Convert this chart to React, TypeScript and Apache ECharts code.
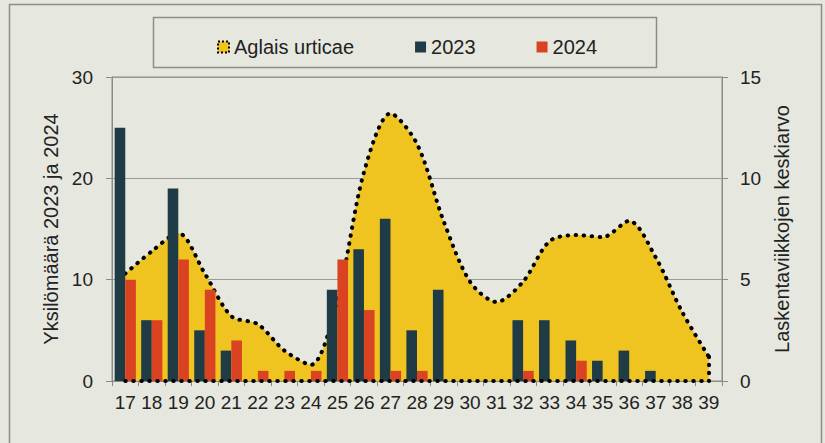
import React, { useEffect, useRef } from "react";
import * as echarts from "echarts";

const weeks = ["17","18","19","20","21","22","23","24","25","26","27","28","29","30","31","32","33","34","35","36","37","38","39"];
const avgCount = [5.3, 6.4, 7.3, 5.3, 3.2, 2.8, 1.5, 0.8, 4.0, 10.3, 13.2, 11.7, 7.9, 4.9, 3.9, 4.9, 6.9, 7.2, 7.1, 7.9, 6.1, 3.4, 1.2];
const y2023 = [25, 6, 19, 5, 3, 0, 0, 0, 9, 13, 16, 5, 9, 0, 0, 6, 6, 4, 2, 3, 1, 0, 0];
const y2024 = [10, 6, 12, 9, 4, 1, 1, 1, 12, 7, 1, 1, 0, 0, 0, 1, 0, 2, 0, 0, 0, 0, 0];
const leftTicks = [0, 10, 20, 30];
const rightTicks = [0, 5, 10, 15];

const FONT = "Liberation Sans, Arial, sans-serif";
const TXT = "#222";
const AX = "#8a8a8a";

export default function App() {
  const ref = useRef<HTMLDivElement>(null);
  useEffect(() => {
    document.body.style.margin = "0";
    const chart = echarts.init(ref.current!, null, { renderer: "svg" });
    const last = weeks.length - 1;
    chart.setOption({
      animation: false,
      backgroundColor: "#e6e8df",
      textStyle: { fontFamily: FONT },
      graphic: [
        { type: "rect", shape: { x: 9.5, y: 4.5, width: 812, height: 440 }, style: { fill: "none", stroke: "#8c8c8c", lineWidth: 1.5 }, z: -1 },
        { type: "rect", shape: { x: 153.5, y: 17.5, width: 503, height: 50 }, style: { fill: "none", stroke: "#8c8c8c", lineWidth: 1.5 }, z: -1 },
      ],
      legend: {
        left: 212,
        top: 32,
        itemGap: 61,
        itemWidth: 11,
        itemHeight: 11,
        textStyle: { fontSize: 20, color: TXT, fontFamily: FONT },
        data: [
          { name: "Aglais urticae", icon: "rect", itemStyle: { color: "#efc420", borderColor: "#000", borderWidth: 2, borderType: [2, 2] } },
          { name: "2023", icon: "rect" },
          { name: "2024", icon: "rect" },
        ],
      },
      grid: { left: 112, right: 103, top: 77, bottom: 62, show: true, borderColor: AX, borderWidth: 1 },
      xAxis: {
        type: "category",
        data: weeks,
        axisLine: { lineStyle: { color: AX } },
        axisTick: { show: true, length: 5, lineStyle: { color: AX } },
        axisLabel: { fontSize: 19, color: TXT, margin: 12, interval: 0, fontFamily: FONT },
      },
      yAxis: [
        {
          type: "value", min: leftTicks[0], max: leftTicks[leftTicks.length - 1], interval: 10,
          name: "Yksilömäärä 2023 ja 2024", nameLocation: "middle", nameGap: 50,
          nameTextStyle: { fontSize: 20, color: TXT, fontFamily: FONT },
          axisLine: { show: true, lineStyle: { color: AX } },
          axisTick: { show: true, length: 6, lineStyle: { color: AX } },
          axisLabel: { fontSize: 19, color: TXT, margin: 19, fontFamily: FONT },
          splitLine: { show: true, lineStyle: { color: "#9a9a9a", width: 1 } },
        },
        {
          type: "value", min: rightTicks[0], max: rightTicks[rightTicks.length - 1], interval: 5,
          name: "Laskentaviikkojen keskiarvo", nameLocation: "middle", nameGap: 48,
          nameTextStyle: { fontSize: 20, color: TXT, fontFamily: FONT },
          axisLine: { show: true, lineStyle: { color: AX } },
          axisTick: { show: true, length: 6, lineStyle: { color: AX } },
          axisLabel: { fontSize: 19, color: TXT, margin: 18, fontFamily: FONT },
          splitLine: { show: false },
        },
      ],
      series: [
        {
          name: "Aglais urticae",
          type: "line",
          yAxisIndex: 1,
          data: avgCount,
          smooth: 0.3,
          symbol: "none",
          z: 1,
          lineStyle: { color: "#000", width: 4, type: [0.5, 7.5], cap: "round" },
          areaStyle: { color: "#efc420", opacity: 1 },
          itemStyle: { color: "#efc420" },
          markLine: {
            silent: true,
            symbol: "none",
            label: { show: false },
            lineStyle: { color: "#000", width: 4, type: [0.5, 7.5], cap: "round" },
            data: [
              [{ coord: [weeks[0], 0] }, { coord: [weeks[last], 0] }],
              [{ coord: [weeks[last], avgCount[last]] }, { coord: [weeks[last], 0] }],
            ],
          },
        },
        {
          name: "2023", type: "bar", yAxisIndex: 0, data: y2023, z: 3,
          barGap: "0%", barCategoryGap: "20%",
          itemStyle: { color: "#1f3b45" },
        },
        {
          name: "2024", type: "bar", yAxisIndex: 0, data: y2024, z: 3,
          barGap: "0%", barCategoryGap: "20%",
          itemStyle: { color: "#da4322" },
        },
      ],
    });
    return () => chart.dispose();
  }, []);
  return <div ref={ref} style={{ position: "fixed", left: 0, top: 0, width: 825, height: 443 }} />;
}
